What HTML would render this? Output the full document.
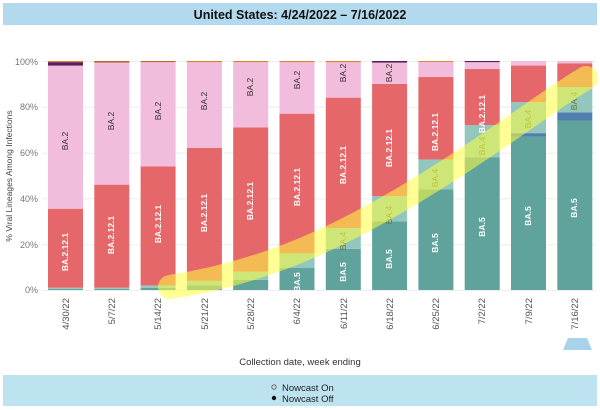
<!DOCTYPE html>
<html><head><style>
html,body{margin:0;padding:0;background:#fff;}
svg{display:block;font-family:"Liberation Sans",sans-serif;}
</style></head><body>
<svg width="600" height="410" viewBox="0 0 600 410" xmlns="http://www.w3.org/2000/svg">
<rect x="0" y="0" width="600" height="410" fill="#fff"/>
<rect x="3" y="3" width="594" height="22" fill="#b3d9ee"/>
<text x="300" y="19" text-anchor="middle" font-size="12.5" font-weight="bold" fill="#111">United States: 4/24/2022 – 7/16/2022</text>
<g stroke="#eee" stroke-width="1">
<line x1="42" x2="596" y1="61.5" y2="61.5"/><line x1="42" x2="596" y1="107.3" y2="107.3"/><line x1="42" x2="596" y1="153.1" y2="153.1"/><line x1="42" x2="596" y1="198.9" y2="198.9"/><line x1="42" x2="596" y1="244.7" y2="244.7"/><line x1="42" x2="596" y1="290.5" y2="290.5"/>
</g>
<g font-size="9" fill="#777" text-anchor="end">
<text x="38" y="65">100%</text><text x="38" y="110">80%</text><text x="38" y="156">60%</text><text x="38" y="202">40%</text><text x="38" y="248">20%</text><text x="38" y="293">0%</text>
</g>
<text transform="translate(12,176) rotate(-90)" text-anchor="middle" font-size="8.5" fill="#444">% Viral Lineages Among Infections</text>
<g transform="translate(0,290) scale(1,-2.29)">
<rect x="48" y="0" width="35" height="0.5" fill="#5fa39c"/><rect x="48" y="0.5" width="35" height="0.5" fill="#93c6bd"/><rect x="48" y="1" width="35" height="34.5" fill="#e6676a"/><rect x="48" y="35.5" width="35" height="62.5" fill="#f2bcdc"/><rect x="48" y="98" width="35" height="1.5" fill="#5a1d5a"/><rect x="48" y="99.5" width="35" height="0.5" fill="#d9822b"/>
<rect x="94.3" y="0" width="35" height="0.5" fill="#5fa39c"/><rect x="94.3" y="0.5" width="35" height="0.5" fill="#93c6bd"/><rect x="94.3" y="1" width="35" height="45" fill="#e6676a"/><rect x="94.3" y="46" width="35" height="53.3" fill="#f2bcdc"/><rect x="94.3" y="99.3" width="35" height="0.7" fill="#b0662b"/>
<rect x="140.6" y="0" width="35" height="1" fill="#5fa39c"/><rect x="140.6" y="1" width="35" height="1" fill="#93c6bd"/><rect x="140.6" y="2" width="35" height="52" fill="#e6676a"/><rect x="140.6" y="54" width="35" height="45.5" fill="#f2bcdc"/><rect x="140.6" y="99.5" width="35" height="0.5" fill="#c0662b"/>
<rect x="186.9" y="0" width="35" height="2" fill="#5fa39c"/><rect x="186.9" y="2" width="35" height="2" fill="#93c6bd"/><rect x="186.9" y="4" width="35" height="58" fill="#e6676a"/><rect x="186.9" y="62" width="35" height="37.5" fill="#f2bcdc"/><rect x="186.9" y="99.5" width="35" height="0.5" fill="#d9822b"/>
<rect x="233.2" y="0" width="35" height="4.4" fill="#5fa39c"/><rect x="233.2" y="4.4" width="35" height="3.6" fill="#93c6bd"/><rect x="233.2" y="8" width="35" height="63" fill="#e6676a"/><rect x="233.2" y="71" width="35" height="28.5" fill="#f2bcdc"/><rect x="233.2" y="99.5" width="35" height="0.5" fill="#d9822b"/>
<rect x="279.5" y="0" width="35" height="9.6" fill="#5fa39c"/><rect x="279.5" y="9.6" width="35" height="6.4" fill="#93c6bd"/><rect x="279.5" y="16" width="35" height="61" fill="#e6676a"/><rect x="279.5" y="77" width="35" height="22.5" fill="#f2bcdc"/><rect x="279.5" y="99.5" width="35" height="0.5" fill="#d9822b"/>
<rect x="325.8" y="0" width="35" height="18" fill="#5fa39c"/><rect x="325.8" y="18" width="35" height="9" fill="#93c6bd"/><rect x="325.8" y="27" width="35" height="57" fill="#e6676a"/><rect x="325.8" y="84" width="35" height="15.5" fill="#f2bcdc"/><rect x="325.8" y="99.5" width="35" height="0.5" fill="#d9822b"/>
<rect x="372.1" y="0" width="35" height="30" fill="#5fa39c"/><rect x="372.1" y="30" width="35" height="11" fill="#93c6bd"/><rect x="372.1" y="41" width="35" height="49" fill="#e6676a"/><rect x="372.1" y="90" width="35" height="9.3" fill="#f2bcdc"/><rect x="372.1" y="99.3" width="35" height="0.7" fill="#5a1d5a"/>
<rect x="418.4" y="0" width="35" height="44" fill="#5fa39c"/><rect x="418.4" y="44" width="35" height="13" fill="#93c6bd"/><rect x="418.4" y="57" width="35" height="36" fill="#e6676a"/><rect x="418.4" y="93" width="35" height="6.6" fill="#f2bcdc"/><rect x="418.4" y="99.6" width="35" height="0.4" fill="#d9822b"/>
<rect x="464.7" y="0" width="35" height="58" fill="#5fa39c"/><rect x="464.7" y="58" width="35" height="14" fill="#93c6bd"/><rect x="464.7" y="72" width="35" height="24.5" fill="#e6676a"/><rect x="464.7" y="96.5" width="35" height="3" fill="#f2bcdc"/><rect x="464.7" y="99.5" width="35" height="0.5" fill="#5a1d5a"/>
<rect x="511" y="0" width="35" height="67" fill="#5fa39c"/><rect x="511" y="67" width="35" height="1.5" fill="#4f7fae"/><rect x="511" y="68.5" width="35" height="13.5" fill="#93c6bd"/><rect x="511" y="82" width="35" height="16" fill="#e6676a"/><rect x="511" y="98" width="35" height="2" fill="#f2bcdc"/>
<rect x="557.3" y="0" width="35" height="74" fill="#5fa39c"/><rect x="557.3" y="74" width="35" height="3.5" fill="#4f7fae"/><rect x="557.3" y="77.5" width="35" height="11.1" fill="#93c6bd"/><rect x="557.3" y="88.6" width="35" height="10.4" fill="#e6676a"/><rect x="557.3" y="99" width="35" height="1" fill="#f2bcdc"/>
</g>
<g font-size="8.5" text-anchor="middle">
<g fill="#333">
<text transform="translate(68,141) rotate(-90)">BA.2</text>
<text transform="translate(114,121) rotate(-90)">BA.2</text>
<text transform="translate(161,111) rotate(-90)">BA.2</text>
<text transform="translate(207,101) rotate(-90)">BA.2</text>
<text transform="translate(253,87) rotate(-90)">BA.2</text>
<text transform="translate(300,80) rotate(-90)">BA.2</text>
<text transform="translate(346,73) rotate(-90)">BA.2</text>
<text transform="translate(392,73) rotate(-90)">BA.2</text>
</g>
<g fill="#fff" font-weight="bold">
<text transform="translate(68,252) rotate(-90)">BA.2.12.1</text>
<text transform="translate(114,235) rotate(-90)">BA.2.12.1</text>
<text transform="translate(161,224) rotate(-90)">BA.2.12.1</text>
<text transform="translate(207,213) rotate(-90)">BA.2.12.1</text>
<text transform="translate(253,201) rotate(-90)">BA.2.12.1</text>
<text transform="translate(300,187) rotate(-90)">BA.2.12.1</text>
<text transform="translate(346,165) rotate(-90)">BA.2.12.1</text>
<text transform="translate(392,148) rotate(-90)">BA.2.12.1</text>
<text transform="translate(438,132) rotate(-90)">BA.2.12.1</text>
<text transform="translate(485,114) rotate(-90)">BA.2.12.1</text>
<text transform="translate(300,282) rotate(-90)">BA.5</text>
<text transform="translate(346,272) rotate(-90)">BA.5</text>
<text transform="translate(392,259) rotate(-90)">BA.5</text>
<text transform="translate(438,243) rotate(-90)">BA.5</text>
<text transform="translate(485,227) rotate(-90)">BA.5</text>
<text transform="translate(531,216) rotate(-90)">BA.5</text>
<text transform="translate(577,208) rotate(-90)">BA.5</text>
</g>
<g fill="#6b7a30">
<text transform="translate(346,241) rotate(-90)">BA.4</text>
<text transform="translate(392,215) rotate(-90)">BA.4</text>
<text transform="translate(438,178) rotate(-90)">BA.4</text>
<text transform="translate(485,146) rotate(-90)">BA.4</text>
<text transform="translate(531,119) rotate(-90)">BA.4</text>
<text transform="translate(577,101) rotate(-90)">BA.4</text>
</g>
</g>
<path d="M170,287 C270,272 350,232 430,182 S540,106 586,78" fill="none" stroke="#ffff40" stroke-opacity="0.55" stroke-width="24" stroke-linecap="round"/>
<g font-size="9.5" fill="#555" text-anchor="end">
<text transform="translate(69,298) rotate(-90)">4/30/22</text>
<text transform="translate(115,298) rotate(-90)">5/7/22</text>
<text transform="translate(161,298) rotate(-90)">5/14/22</text>
<text transform="translate(208,298) rotate(-90)">5/21/22</text>
<text transform="translate(254,298) rotate(-90)">5/28/22</text>
<text transform="translate(300,298) rotate(-90)">6/4/22</text>
<text transform="translate(347,298) rotate(-90)">6/11/22</text>
<text transform="translate(393,298) rotate(-90)">6/18/22</text>
<text transform="translate(439,298) rotate(-90)">6/25/22</text>
<text transform="translate(485,298) rotate(-90)">7/2/22</text>
<text transform="translate(532,298) rotate(-90)">7/9/22</text>
<text transform="translate(578,298) rotate(-90)">7/16/22</text>
</g>
<polygon points="563,350 568,338 587,338 592,350" fill="#a9d2ec"/>
<text x="300" y="365" text-anchor="middle" font-size="9.5" fill="#333">Collection date, week ending</text>
<rect x="3" y="375" width="594" height="31" fill="#bde3f1"/>
<circle cx="274" cy="387" r="2.2" fill="none" stroke="#555" stroke-width="0.8"/>
<circle cx="274" cy="398" r="2.2" fill="#111"/>
<text x="282" y="391" font-size="9.5" fill="#222">Nowcast On</text>
<text x="282" y="402" font-size="9.5" fill="#222">Nowcast Off</text>
</svg>
</body></html>
